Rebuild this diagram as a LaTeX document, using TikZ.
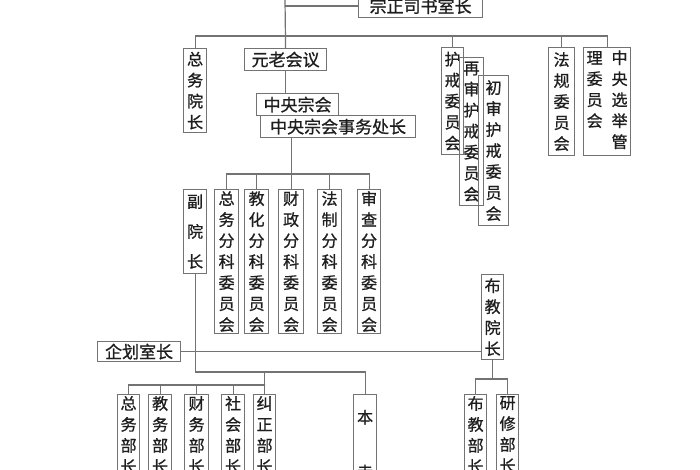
\documentclass[tikz,border=0pt]{standalone}
\usepackage{fontspec}
\setmainfont{Noto Sans CJK SC}[FakeBold=0.9]
\definecolor{linegray}{RGB}{115,115,115}
\definecolor{inkgray}{RGB}{30,30,30}
\tikzstyle{hbox} = [rectangle, draw=linegray, line width=1.2pt, text=inkgray, font=\fontsize{17}{20}\selectfont, inner xsep=6pt, inner ysep=1pt, minimum height=22pt, anchor=north west]
\tikzstyle{vbox} = [rectangle, draw=linegray, line width=1.2pt, text=inkgray, font=\fontsize{16}{21}\selectfont, align=center, inner xsep=3pt, inner ysep=1.5pt, anchor=north west]
\tikzstyle{line} = [draw=linegray, line width=1.2pt]

\begin{document}
\begin{tikzpicture}[x=1pt, y=-1pt]

        \fill [white] (0,0) rectangle (700,470);
        \useasboundingbox (0,0) rectangle (700,470);
        \clip (0,0) rectangle (700,470);

        % top rows
        \node (zongzheng) [hbox, minimum width=124pt, minimum height=23pt] at (358,-6) {宗正司书室长};
        \node (zongwu) [vbox, minimum width=23pt, minimum height=84pt] at (183,48) {总\\务\\院\\长};
        \node (yuanlao) [hbox, minimum width=82pt] at (244,48) {元老会议};
        \node (zhongyang) [hbox, minimum width=82pt] at (256,93) {中央宗会};
        \node (shiwu) [hbox, minimum width=155pt] at (260,115) {中央宗会事务处长};
        \node (hujie) [vbox, minimum width=22pt, minimum height=107pt] at (441,47) {护\\戒\\委\\员\\会};
        \node (zaishen) [vbox, minimum width=24pt, minimum height=148pt] at (459,57) {再\\审\\护\\戒\\委\\员\\会};
        \node (chushen) [vbox, minimum width=30pt, minimum height=150pt] at (478,75) {初\\审\\护\\戒\\委\\员\\会};
        \node (fagui) [vbox, minimum width=26pt, minimum height=108pt] at (548,47) {法\\规\\委\\员\\会};
        \node (xuanju) [vbox, minimum width=47pt, minimum height=105pt] at (583,47) {\begin{tabular}[t]{@{}c@{}}理\\委\\员\\会\end{tabular}\hspace{9pt}\begin{tabular}[t]{@{}c@{}}中\\央\\选\\举\\管\end{tabular}};

        % middle rows
        \node (fuyuan) [vbox, minimum width=23pt, minimum height=84pt] at (183,189) {副\\[9pt]院\\[9pt]长};
        \node (zongwuke) [vbox, minimum width=24pt, minimum height=144pt] at (214,189) {总\\务\\分\\科\\委\\员\\会};
        \node (jiaohua) [vbox, minimum width=24pt, minimum height=144pt] at (244,189) {教\\化\\分\\科\\委\\员\\会};
        \node (caizheng) [vbox, minimum width=25pt, minimum height=144pt] at (278,189) {财\\政\\分\\科\\委\\员\\会};
        \node (fazhi) [vbox, minimum width=24pt, minimum height=144pt] at (317,189) {法\\制\\分\\科\\委\\员\\会};
        \node (shencha) [vbox, minimum width=23pt, minimum height=144pt] at (357,189) {审\\查\\分\\科\\委\\员\\会};
        \node (qihua) [hbox, minimum width=83pt, minimum height=20pt] at (97,341) {企划室长};
        \node (bujiao) [vbox, minimum width=22pt, minimum height=85pt] at (481,274) {布\\教\\院\\长};

        % bottom rows
        \node (zongwubu) [vbox, minimum width=22pt] at (117,394) {总\\务\\部\\长};
        \node (jiaowubu) [vbox, minimum width=23pt] at (148,394) {教\\务\\部\\长};
        \node (caiwubu) [vbox, minimum width=24pt] at (184,394) {财\\务\\部\\长};
        \node (shehuibu) [vbox, minimum width=23pt] at (221,394) {社\\会\\部\\长};
        \node (jiuzheng) [vbox, minimum width=22pt] at (253,394) {纠\\正\\部\\长};
        \node (benshi) [vbox, minimum width=23pt, minimum height=100pt] at (353,394) {本\\[34pt]寺};
        \node (bujiaobu) [vbox, minimum width=22pt] at (464,394) {布\\教\\部\\长};
        \node (yanxiu) [vbox, minimum width=22pt] at (496,394) {研\\修\\部\\长};

        \coordinate (top) at (285,0);
        \coordinate (bus) at (285,36);
        \coordinate (bus2) at (288,174);
        \coordinate (bus3) at (194,372);
        \coordinate (bus4) at (265,385);
        \coordinate (bus5) at (492,379);

        \draw [line] (top) -- (yuanlao.north);
        \draw [line] (zongzheng.west) -- (zongzheng.west -| top);
        \draw [line] (zongwu.north) |- (bus) -| (xuanju.north);
        \draw [line] (hujie.north) -- (hujie.north |- bus);
        \draw [line] (fagui.north) -- (fagui.north |- bus);
        \draw [line] (yuanlao.south) -- (yuanlao.south |- zhongyang.north);
        \draw [line] (caizheng.north) -- (caizheng.north |- shiwu.south);
        \draw [line] (zongwuke.north) |- (bus2) -| (shencha.north);
        \draw [line] (jiaohua.north) -- (jiaohua.north |- bus2);
        \draw [line] (fazhi.north) -- (fazhi.north |- bus2);
        \draw [line] (fuyuan.south) -- (fuyuan.south |- bus3) -| (benshi.north);
        \draw [line] (qihua.east) -- (qihua.east -| bujiao.west);
        \draw [line] (zongwubu.north) |- (bus4) -| (jiuzheng.north);
        \draw [line] (jiuzheng.north) -- (jiuzheng.north |- bus3);
        \draw [line] (jiaowubu.north) -- (jiaowubu.north |- bus4);
        \draw [line] (caiwubu.north) -- (caiwubu.north |- bus4);
        \draw [line] (shehuibu.north) -- (shehuibu.north |- bus4);
        \draw [line] (bujiao.south) -- (bujiao.south |- bus5);
        \draw [line] (bujiaobu.north) |- (bus5) -| (yanxiu.north);

\end{tikzpicture}
\end{document}
